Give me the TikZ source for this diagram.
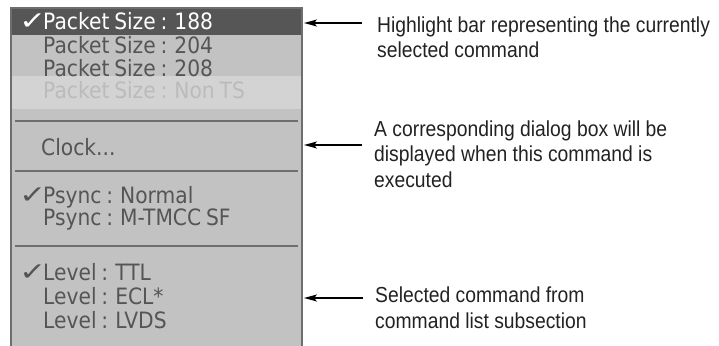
\documentclass[tikz,border=0pt]{standalone}
\usepackage{fontspec}
\usepackage{graphicx}
\usetikzlibrary{arrows.meta}
\newfontfamily\menufont[FakeStretch=0.9,WordSpace=0.75]{DejaVu Sans}
\newfontfamily\chkfont{DejaVu Sans Bold}
\newfontfamily\lblfont[FakeStretch=0.89]{Liberation Sans}
\definecolor{panelgray}{HTML}{C2C2C2}
\definecolor{bandgray}{HTML}{D3D3D3}
\definecolor{hilite}{HTML}{565656}
\definecolor{menutext}{HTML}{555555}
\definecolor{dimtext}{HTML}{BBBBBB}
\definecolor{edgegray}{HTML}{6E6E6E}
\definecolor{lbltext}{HTML}{222222}
\newcommand{\chk}{\makebox[24pt][l]{\chkfont\fontsize{25}{25}\selectfont\scalebox{1.3}[1.0]{✓}}}
\tikzset{
  item/.style={anchor=base west, inner sep=0pt, text=menutext, font=\menufont\fontsize{22.5}{22.5}\selectfont},
  lbl/.style={anchor=base west, inner sep=0pt, text=lbltext, align=left,
    font=\lblfont\fontsize{21.7}{25.3}\selectfont},
  sep/.style={draw=edgegray, line width=1.4pt},
  pointer/.style={draw=black, line width=1.3pt, -{Stealth[length=13pt,width=7pt,inset=3pt]}}
}
\begin{document}
\begin{tikzpicture}[x=1pt,y=-1pt]
\useasboundingbox (0,0) rectangle (719,345);
% panel
\fill[panelgray] (11,8) rectangle (302,346);
\fill[hilite] (11,8) rectangle (302,35);
\fill[bandgray] (12,76) rectangle (301,109);
\draw[edgegray, line width=1.6pt] (11,346) -- (11,8) -- (302,8) -- (302,346);
% items
\node[item, text=white] (i1) at (19,29.5) {\chk Packet Size : 188};
\node[item] (i2) at (43,53) {Packet Size : 204};
\node[item] (i3) at (43,76.5) {Packet Size : 208};
\node[item, text=dimtext] (i4) at (43,98.5) {Packet Size : Non TS};
\draw[sep] (15,121) -- (298,121);
\node[item] (i5) at (41,155) {Clock...};
\draw[sep] (15,171) -- (298,171);
\node[item] (i6) at (19,203) {\chk Psync : Normal};
\node[item] (i7) at (43,225.5) {Psync : M-TMCC SF};
\draw[sep] (15,246) -- (298,246);
\node[item] (i8) at (19,280) {\chk Level : TTL};
\node[item] (i9) at (43,304) {Level : ECL*};
\node[item] (i10) at (43,328) {Level : LVDS};
% labels (base = last line's baseline)
\node[lbl] (l1) at (377,57.5) {Highlight bar representing the currently\\selected command};
\node[lbl] (l2) at (374,187) {A corresponding dialog box will be\\displayed when this command is\\executed};
\node[lbl] (l3) at (375,328) {Selected command from\\command list subsection};
% arrows
\coordinate (t1) at (362,23); \coordinate (h1) at (304,23);
\coordinate (t2) at (362,145); \coordinate (h2) at (304,145);
\coordinate (t3) at (363,298); \coordinate (h3) at (304,298);
\draw[pointer] (t1) -- (h1);
\draw[pointer] (t2) -- (h2);
\draw[pointer] (t3) -- (h3);
\end{tikzpicture}
\end{document}
